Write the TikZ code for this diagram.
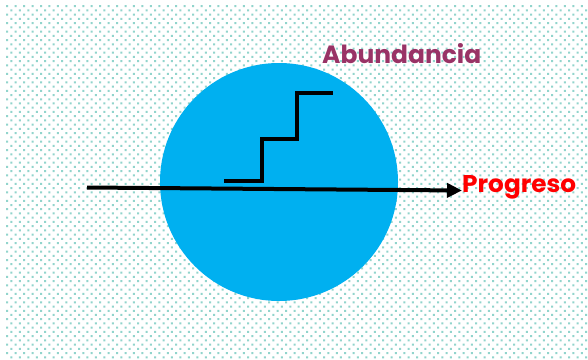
\documentclass[tikz,border=0pt]{standalone}
\usepackage{fontspec}
\setmainfont{Poppins}
\usetikzlibrary{arrows.meta}
\definecolor{dotc}{RGB}{145,212,204}
\definecolor{ball}{RGB}{0,176,240}
\definecolor{abund}{RGB}{153,51,102}
\definecolor{prog}{RGB}{255,0,0}
\tikzset{
  stair/.style={line width=4.2pt, line cap=butt, line join=miter},
  axis/.style={line width=4pt, -{Triangle[length=15pt,width=14pt]}},
  lbl/.style={inner sep=0pt, font=\bfseries, anchor=base west}
}
\begin{document}
\begin{tikzpicture}[x=1pt,y=-1pt]
\useasboundingbox (0,0) rectangle (588,359);
\fill[white] (0,0) rectangle (588,359);
% dotted background
\fill[dotc] \foreach \r in {0,...,83} {
  \foreach \c in {0,...,70} {
    ({6.2+8.45*\c+4.225*mod(\r,2)},{5.2+4.23*\r}) rectangle ++(2,2)
  }
};
% ball
\node[circle, fill=ball, minimum size=238pt, inner sep=0pt] (ball) at (279,182) {};
% stairs
\coordinate (s0) at (224,181);
\coordinate (s1) at (262,181);
\coordinate (s2) at (262,139);
\coordinate (s3) at (297,139);
\coordinate (s4) at (297,93);
\coordinate (s5) at (333,93);
\draw[stair] (s0) -- (s1) -- (s2) -- (s3) -- (s4) -- (s5);
% labels
\node[lbl, text=abund] (abundancia) at (322,63) {\resizebox{159pt}{20pt}{Abundancia}};
\node[lbl, text=prog] (progreso) at (462,192) {\resizebox{114pt}{17pt}{Progreso}};
% axis
\coordinate (a0) at (87,187.5);
\draw[axis] (a0) -- (progreso.west |- 0,190.5);
\end{tikzpicture}
\end{document}
